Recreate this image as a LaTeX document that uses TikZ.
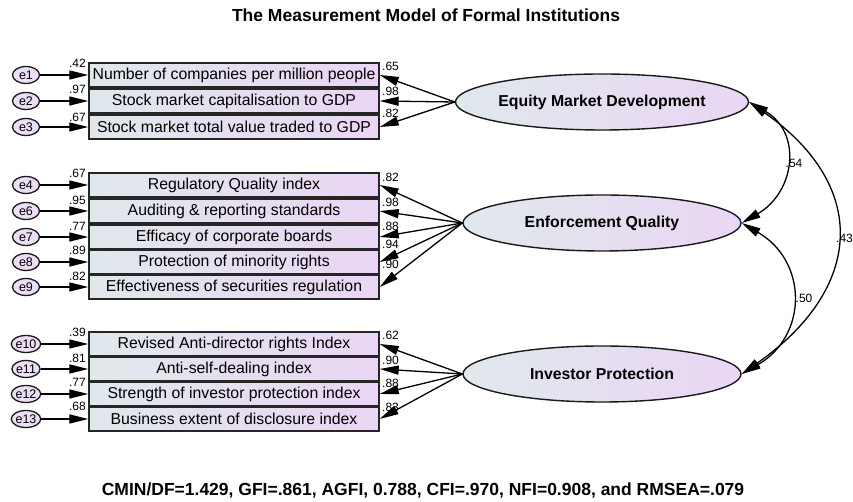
\documentclass[tikz,border=0pt]{standalone}
\usepackage{fontspec}
\setmainfont{Liberation Sans}
\usetikzlibrary{arrows.meta,shapes.geometric}
\definecolor{gl}{RGB}{224,232,236}
\definecolor{gr}{RGB}{234,214,244}
\definecolor{ef}{RGB}{236,222,246}
\tikzset{
 obs/.style={rectangle, draw=black!85, line width=1.4pt, left color=gl, right color=gr, minimum width=290pt, minimum height=24pt, inner sep=0pt, font=\fontsize{15.8}{18}\selectfont},
 lat/.style={ellipse, draw=black!90, line width=1.4pt, left color=gl, right color=gr, minimum width=278pt, minimum height=56pt, inner sep=0pt, font=\bfseries\fontsize{15.8}{18}\selectfont},
 err/.style={ellipse, draw=black!90, line width=1.3pt, fill=ef, minimum width=27pt, minimum height=17pt, inner sep=0pt, font=\fontsize{12.5}{14}\selectfont},
 arr/.style={-{Triangle[length=19pt,width=9pt]}, line width=1.3pt},
 cov/.style={{Triangle[length=19pt,width=9pt]}-{Triangle[length=19pt,width=9pt]}, line width=1.3pt},
 est/.style={inner sep=0pt, font=\fontsize{12}{14}\selectfont},
 ttl/.style={inner sep=0pt, font=\bfseries\fontsize{17.5}{20}\selectfont},
}
\begin{document}
\begin{tikzpicture}[x=1pt,y=1pt]
\fill[white] (0,0) rectangle (853,502);
\useasboundingbox (0,0) rectangle (853,502);

\node[ttl] (title) at (426,486.5) {The Measurement Model of Formal Institutions};
\node[ttl] (fit) at (423,11) {CMIN/DF=1.429, GFI=.861, AGFI, 0.788, CFI=.970, NFI=0.908, and RMSEA=.079};

% latent variables
\node[lat] (eq) at (602,400) {Equity Market Development};
\node[lat] (enf) at (602,279) {Enforcement Quality};
\node[lat] (inv) at (602,128) {Investor Protection};

% observed boxes
\node[obs] (b1) at (234,427) {Number of companies per million people};
\node[obs] (b2) at (234,401) {Stock market capitalisation to GDP};
\node[obs] (b3) at (234,375) {Stock market total value traded to GDP};
\node[obs] (b4) at (234,317) {Regulatory Quality index};
\node[obs] (b5) at (234,291) {Auditing \& reporting standards};
\node[obs] (b6) at (234,265) {Efficacy of corporate boards};
\node[obs] (b7) at (234,240) {Protection of minority rights};
\node[obs] (b8) at (234,215) {Effectiveness of securities regulation};
\node[obs] (b9) at (234,158) {Revised Anti-director rights Index};
\node[obs] (b10) at (234,133) {Anti-self-dealing index};
\node[obs] (b11) at (234,108) {Strength of investor protection index};
\node[obs] (b12) at (234,83) {Business extent of disclosure index};

% error terms
\node[err] (e1) at (26,427) {e1};
\node[err] (e2) at (26,401) {e2};
\node[err] (e3) at (26,375) {e3};
\node[err] (e4) at (26,317) {e4};
\node[err] (e6) at (26,291) {e6};
\node[err] (e7) at (26,265) {e7};
\node[err] (e8) at (26,240) {e8};
\node[err] (e9) at (26,215) {e9};
\node[err] (e10) at (26,158) {e10};
\node[err] (e11) at (26,133) {e11};
\node[err] (e12) at (26,108) {e12};
\node[err] (e13) at (26,83) {e13};

% error arrows
\draw[arr] (e1) -- (b1);
\draw[arr] (e2) -- (b2);
\draw[arr] (e3) -- (b3);
\draw[arr] (e4) -- (b4);
\draw[arr] (e6) -- (b5);
\draw[arr] (e7) -- (b6);
\draw[arr] (e8) -- (b7);
\draw[arr] (e9) -- (b8);
\draw[arr] (e10) -- (b9);
\draw[arr] (e11) -- (b10);
\draw[arr] (e12) -- (b11);
\draw[arr] (e13) -- (b12);

% loadings
\foreach \b in {b1,b2,b3} \draw[arr] (eq.west) -- (\b.east);
\foreach \b in {b4,b5,b6,b7,b8} \draw[arr] (enf.west) -- (\b.east);
\foreach \b in {b9,b10,b11,b12} \draw[arr] (inv.west) -- (\b.east);

% covariances
\draw[cov] (eq.east) to[out=-30,in=30,looseness=1.3] (enf.east);
\draw[cov] (enf.east) to[out=-30,in=30,looseness=1.3] (inv.east);
\draw[cov] (eq.east) to[out=-35,in=35,looseness=1.39] (inv.east);
\node[est] (c54) at (794,339) {.54};
\node[est] (c50) at (804,204) {.50};
\node[est,anchor=west] (c43) at (836,264) {.43};

% squared multiple correlations
\node[est,anchor=east] (r1) at (86,438.5) {.42};
\node[est,anchor=east] (r2) at (86,412.5) {.97};
\node[est,anchor=east] (r3) at (86,385) {.67};
\node[est,anchor=east] (r4) at (86,328.5) {.67};
\node[est,anchor=east] (r5) at (86,302) {.95};
\node[est,anchor=east] (r6) at (86,276) {.77};
\node[est,anchor=east] (r7) at (86,252) {.89};
\node[est,anchor=east] (r8) at (86,226) {.82};
\node[est,anchor=east] (r9) at (86,169.5) {.39};
\node[est,anchor=east] (r10) at (86,144) {.81};
\node[est,anchor=east] (r11) at (86,119.5) {.77};
\node[est,anchor=east] (r12) at (86,95.5) {.68};

% loading estimates
\node[est,anchor=west] (l1) at (382,435.5) {.65};
\node[est,anchor=west] (l2) at (382,411) {.98};
\node[est,anchor=west] (l3) at (382,389) {.82};
\node[est,anchor=west] (l4) at (382,325) {.82};
\node[est,anchor=west] (l5) at (382,300) {.98};
\node[est,anchor=west] (l6) at (382,276) {.88};
\node[est,anchor=west] (l7) at (382,258) {.94};
\node[est,anchor=west] (l8) at (382,238) {.90};
\node[est,anchor=west] (l9) at (382,167) {.62};
\node[est,anchor=west] (l10) at (382,142) {.90};
\node[est,anchor=west] (l11) at (382,118.5) {.88};
\node[est,anchor=west] (l12) at (382,95) {.83};
\end{tikzpicture}
\end{document}
